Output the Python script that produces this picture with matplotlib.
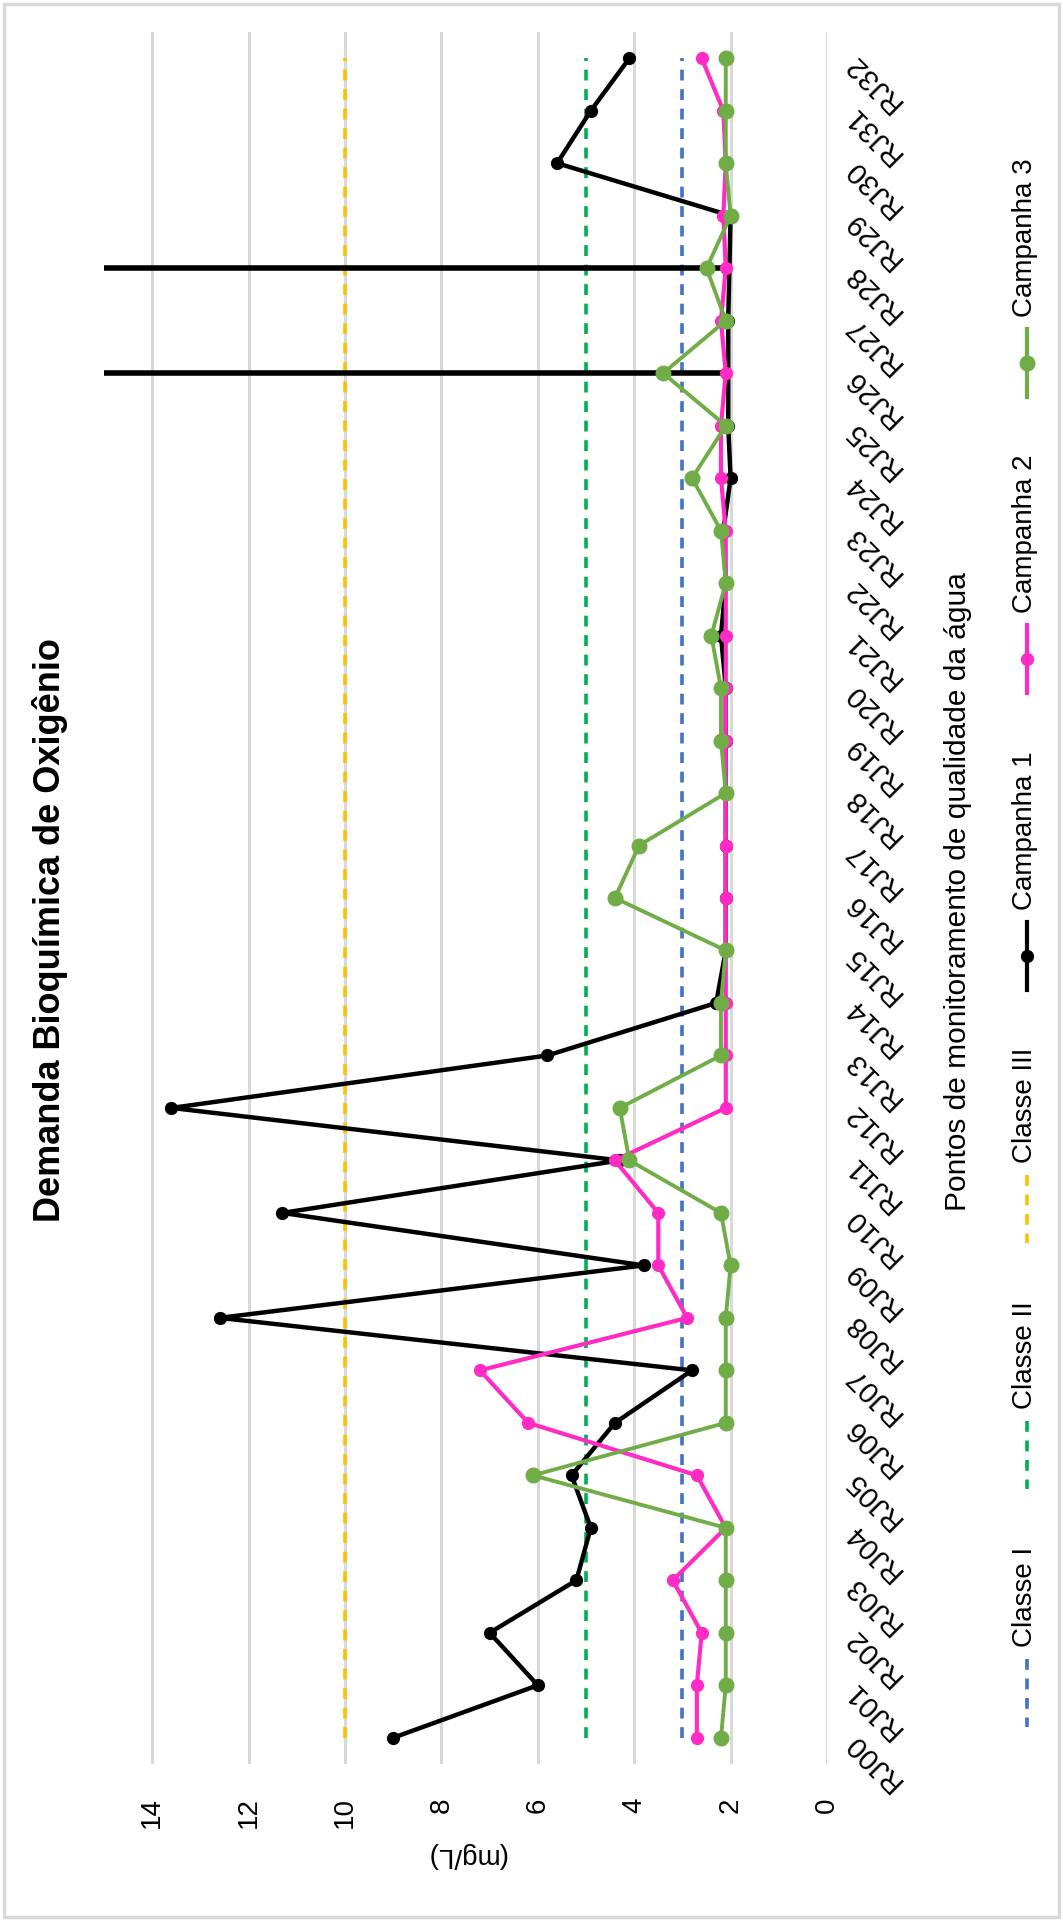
import numpy as np
import matplotlib
matplotlib.use("Agg")
import matplotlib.pyplot as plt
from matplotlib.lines import Line2D
from matplotlib.patches import Rectangle

plt.rcParams['font.family'] = ['Liberation Sans', 'DejaVu Sans']

# dados
pontos = ['RJ00', 'RJ01', 'RJ02', 'RJ03', 'RJ04', 'RJ05', 'RJ06', 'RJ07', 'RJ08', 'RJ09',
          'RJ10', 'RJ11', 'RJ12', 'RJ13', 'RJ14', 'RJ15', 'RJ16', 'RJ17', 'RJ18', 'RJ19',
          'RJ20', 'RJ21', 'RJ22', 'RJ23', 'RJ24', 'RJ25', 'RJ26', 'RJ27', 'RJ28', 'RJ29',
          'RJ30', 'RJ31', 'RJ32']
# RJ26 e RJ28 ficam acima do limite do eixo (15 mg/L)
campanha1 = [9.0, 6.0, 7.0, 5.2, 4.9, 5.3, 4.4, 2.8, 12.6, 3.8, 11.3, 4.3, 13.6, 5.8, 2.3,
             2.1, 2.1, 2.1, 2.1, 2.1, 2.1, 2.2, 2.1, 2.15, 2.0, 2.05, 20.0, 2.05, 20.0, 2.0,
             5.6, 4.9, 4.1]
campanha2 = [2.7, 2.7, 2.6, 3.2, 2.1, 2.7, 6.2, 7.2, 2.9, 3.5, 3.5, 4.4, 2.1, 2.1, 2.1,
             2.1, 2.1, 2.1, 2.1, 2.1, 2.1, 2.1, 2.1, 2.1, 2.2, 2.2, 2.1, 2.2, 2.1, 2.15,
             2.1, 2.15, 2.6]
campanha3 = [2.2, 2.1, 2.1, 2.1, 2.1, 6.1, 2.1, 2.1, 2.1, 2.0, 2.2, 4.1, 4.3, 2.2, 2.2,
             2.1, 4.4, 3.9, 2.1, 2.2, 2.2, 2.4, 2.1, 2.2, 2.8, 2.1, 3.4, 2.1, 2.5, 2.0,
             2.1, 2.1, 2.1]
classes = ['Classe I', 'Classe II', 'Classe III']
limites = [3, 5, 10]
campanhas = ['Campanha 1', 'Campanha 2', 'Campanha 3']
eixo_max = 15
ticks_val = [0, 2, 4, 6, 8, 10, 12, 14]

cor_classes = ['#4472C4', '#00B050', '#FFC000']
cor_campanhas = ['#000000', '#FF2BC4', '#70AD47']
grid_cor = '#D9D9D9'
traco = (3, 2.4)

W, H = 1063, 1921
fig = plt.figure(figsize=(W / 100, H / 100), dpi=100)

def fx(px):
    return px / W

def fy(px):
    return 1 - px / H

# eixo (grafico girado 90 graus)
ax = fig.add_axes([fx(104), fy(1764), fx(827 - 104), (1764 - 32) / H])
idx = np.arange(len(pontos))

for lim, cor in zip(limites, cor_classes):
    ax.plot(np.full(len(pontos), lim), idx, color=cor, lw=2.6, dashes=traco, zorder=2)

# campanha 1: pontos fora da escala viram um traço horizontal até a borda
c1 = np.array(campanha1)
fora = c1 > eixo_max
base = c1.copy()
for k in np.where(fora)[0]:
    base[k] = (c1[k - 1] + c1[k + 1]) / 2
ax.plot(base, idx, color='black', lw=3.2, zorder=3)
ax.plot(c1[~fora], idx[~fora], ls='none', marker='o', ms=8.5, color='black', zorder=3)
for k in np.where(fora)[0]:
    ax.plot([base[k], c1[k]], [idx[k], idx[k]], color='black', lw=4.0, zorder=3)

ax.plot(campanha2, idx, color=cor_campanhas[1], lw=3.0, marker='o', ms=8.5, zorder=4)
ax.plot(campanha3, idx, color=cor_campanhas[2], lw=2.8, marker='o', ms=10.5, zorder=5)

ax.set_xlim(eixo_max, 0)
ax.set_ylim(-0.5, len(pontos) - 0.5)
ax.set_xticks(ticks_val)
ax.set_xticklabels([str(v) for v in ticks_val], rotation=90, fontsize=20)
ax.set_yticks(idx)
ax.set_yticklabels(pontos, rotation=135, ha='right', va='center',
                   rotation_mode='anchor', fontsize=21)
ax.yaxis.tick_right()
ax.tick_params(axis='x', length=0, pad=24)
ax.tick_params(axis='y', length=0, pad=16)
ax.grid(axis='x', color=grid_cor, lw=2.2, zorder=0)
ax.set_axisbelow(True)
for s in ax.spines.values():
    s.set_visible(False)

# textos
fig.text(fx(50), fy(930), 'Demanda Bioquímica de Oxigênio', rotation=90,
         fontsize=26, weight='bold', ha='center', va='center')
fig.text(fx(958), fy(892), 'Pontos de monitoramento de qualidade da água',
         rotation=90, fontsize=21.5, ha='center', va='center')
fig.text(fx(466), fy(1855), '(mg/L)', rotation=180, fontsize=20,
         ha='center', va='center')

# legenda manual (girada)
renderer = fig.canvas.get_renderer()
itens = list(zip(campanhas[::-1], cor_campanhas[::-1], [10.5, 8.5, 8.5], [None] * 3)) + \
        list(zip(classes[::-1], cor_classes[::-1], [0] * 3, [traco] * 3))
cursor = 158
for nome, cor, ms, ds in itens:
    t = fig.text(fx(1025), fy(cursor), nome, rotation=90, fontsize=20,
                 ha='center', va='top')
    tl = t.get_window_extent(renderer).height
    h0 = cursor + tl + 12
    h1 = h0 + 68
    if ds is None:
        fig.add_artist(Line2D([fx(1027)] * 2, [fy(h0), fy(h1)], color=cor, lw=3.0))
        fig.add_artist(Line2D([fx(1027)], [fy((h0 + h1) / 2)], color=cor, marker='o',
                              ms=ms))
    else:
        fig.add_artist(Line2D([fx(1027)] * 2, [fy(h0), fy(h1)], color=cor, lw=2.6,
                              dashes=ds))
    cursor = h1 + 58

fig.add_artist(Rectangle((0.004, 0.002), 0.992, 0.996, transform=fig.transFigure,
                         fill=False, ec=grid_cor, lw=2.5))

plt.savefig('out.png', dpi=100)
